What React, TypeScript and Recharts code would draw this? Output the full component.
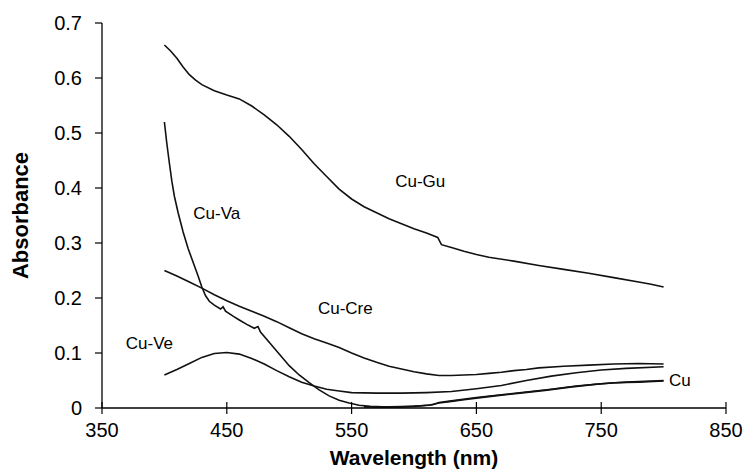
import { LineChart, Line, XAxis, YAxis, ReferenceDot, Label } from "recharts";

const FONT = "'Liberation Sans', Arial, Helvetica, sans-serif";

const xTicks = [350, 450, 550, 650, 750, 850];
const yTicks = [0, 0.1, 0.2, 0.3, 0.4, 0.5, 0.6, 0.7];

// [wavelength nm, absorbance]
const cuGu = [
  [400, 0.66], [405, 0.649], [410, 0.636], [415, 0.62], [420, 0.606], [425, 0.596], [430, 0.588],
  [440, 0.577], [450, 0.569], [460, 0.562], [470, 0.549], [480, 0.533], [490, 0.515], [500, 0.494],
  [510, 0.47], [520, 0.444], [530, 0.421], [540, 0.398], [550, 0.38], [560, 0.366], [570, 0.355],
  [580, 0.344], [590, 0.335], [600, 0.326], [610, 0.318], [619, 0.31], [622, 0.297], [630, 0.292],
  [640, 0.285], [650, 0.279], [660, 0.274], [680, 0.267], [700, 0.259], [720, 0.252], [740, 0.245],
  [760, 0.237], [780, 0.229], [790, 0.225], [800, 0.22],
];

const cuVa = [
  [400, 0.52], [402, 0.48], [404, 0.445], [406, 0.412], [408, 0.385], [411, 0.355], [415, 0.32],
  [419, 0.29], [423, 0.265], [427, 0.24], [430, 0.22], [433, 0.204], [436, 0.194], [440, 0.187],
  [445, 0.18], [447, 0.184], [449, 0.176], [455, 0.167], [460, 0.16], [466, 0.152], [472, 0.145],
  [475, 0.148], [477, 0.138], [485, 0.117], [492, 0.098], [500, 0.077], [508, 0.06], [516, 0.046],
  [524, 0.033], [532, 0.022], [540, 0.014], [548, 0.009], [556, 0.005], [565, 0.003], [575, 0.002],
  [590, 0.002], [605, 0.004], [615, 0.006], [620, 0.01], [630, 0.013], [650, 0.019], [670, 0.024],
  [690, 0.029], [710, 0.034], [730, 0.04], [750, 0.044], [770, 0.047], [800, 0.05],
];

const cuCre = [
  [400, 0.25], [410, 0.24], [420, 0.229], [430, 0.218], [440, 0.206], [450, 0.195], [460, 0.185],
  [470, 0.176], [480, 0.167], [490, 0.157], [500, 0.146], [510, 0.135], [520, 0.126], [530, 0.118],
  [540, 0.11], [550, 0.1], [560, 0.091], [570, 0.083], [580, 0.076], [590, 0.071], [600, 0.066],
  [610, 0.062], [620, 0.059], [630, 0.059], [640, 0.06], [650, 0.061], [660, 0.063], [670, 0.065],
  [680, 0.068], [690, 0.07], [700, 0.073], [720, 0.076], [740, 0.078], [760, 0.08], [780, 0.081],
  [800, 0.08],
];

const cuVe = [
  [400, 0.06], [410, 0.07], [420, 0.081], [430, 0.092], [440, 0.099], [450, 0.101], [460, 0.098],
  [470, 0.09], [480, 0.08], [490, 0.068], [500, 0.057], [510, 0.047], [520, 0.04], [530, 0.034],
  [540, 0.031], [550, 0.028], [570, 0.027], [590, 0.027], [610, 0.028], [630, 0.03], [650, 0.035],
  [670, 0.041], [690, 0.05], [710, 0.058], [730, 0.064], [750, 0.069], [770, 0.072], [800, 0.075],
];

const cu = [
  [560, 0.002], [580, 0.002], [600, 0.003], [612, 0.005], [620, 0.009], [630, 0.012], [640, 0.015],
  [650, 0.018], [665, 0.022], [685, 0.027], [705, 0.032], [725, 0.038], [745, 0.043], [760, 0.046],
  [780, 0.047], [800, 0.049],
];

// curve name tags: [label, nm, absorbance] of the text centre
const tags: [string, number, number][] = [
  ["Cu-Gu", 605, 0.413],
  ["Cu-Va", 442, 0.355],
  ["Cu-Cre", 545, 0.182],
  ["Cu-Ve", 388, 0.118],
  ["Cu", 813, 0.051],
];

const toRows = (pts: number[][]) => pts.map(([nm, a]) => ({ nm, a }));

const series = [cuGu, cuVa, cuCre, cuVe, cu].map(toRows);

const TICK_SIZE = 6;
const TICK_MARGIN = 9;
const frameLine = { stroke: "#000", strokeWidth: 1.3 };

function XTick(props: any) {
  const { x, y, payload } = props;
  const axisY = y - TICK_SIZE - TICK_MARGIN;
  return (
    <g>
      <line x1={x} x2={x} y1={axisY - 6} y2={axisY + 6} stroke="#000" strokeWidth={1.2} />
      <text x={x} y={axisY + 29} textAnchor="middle" fontSize={20} fontFamily={FONT} fill="#000">
        {payload.value}
      </text>
    </g>
  );
}

export default function App() {
  return (
    <div style={{ position: "absolute", left: 0, top: 0, background: "#fff" }}>
      <LineChart width={746} height={470} margin={{ top: 23, right: 20, left: 0, bottom: 0 }}>
        <XAxis
          dataKey="nm" type="number" domain={[350, 850]} ticks={xTicks} allowDataOverflow
          height={62} tickSize={TICK_SIZE} tickMargin={TICK_MARGIN} tickLine={false}
          axisLine={frameLine} tick={<XTick />} interval={0}
        >
          <Label value="Wavelength (nm)" position="insideBottom" offset={5}
            style={{ fontSize: 21, fontWeight: "bold", fontFamily: FONT, fill: "#000" }} />
        </XAxis>
        {/* top and right edges of the plot frame */}
        <XAxis xAxisId="top" orientation="top" type="number" domain={[350, 850]} allowDataOverflow
          height={0} tick={false} tickLine={false} axisLine={frameLine} />
        <YAxis
          type="number" domain={[0, 0.7]} ticks={yTicks} width={102} allowDataOverflow
          tickSize={7} tickMargin={13} interval={0}
          axisLine={frameLine} tickLine={{ stroke: "#000", strokeWidth: 1.2 }}
          tick={{ fontSize: 20, fontFamily: FONT, fill: "#000" }}
        >
          <Label value="Absorbance" angle={-90} position="insideLeft" offset={20}
            style={{ fontSize: 22, fontWeight: "bold", fontFamily: FONT, fill: "#000", textAnchor: "middle" }} />
        </YAxis>
        <YAxis yAxisId="right" orientation="right" type="number" domain={[0, 0.7]} allowDataOverflow
          width={0} tick={false} tickLine={false} axisLine={frameLine} />
        {series.map((d, i) => (
          <Line key={i} data={d} dataKey="a" type="linear" stroke="#111" strokeWidth={1.6}
            dot={false} activeDot={false} isAnimationActive={false} />
        ))}
        {tags.map(([t, nm, a]) => (
          <ReferenceDot key={t} x={nm} y={a} r={0} fill="none" stroke="none" ifOverflow="visible"
            label={{ value: t, position: "center", fontSize: 17, fontFamily: FONT, fill: "#000" }} />
        ))}
      </LineChart>
    </div>
  );
}
